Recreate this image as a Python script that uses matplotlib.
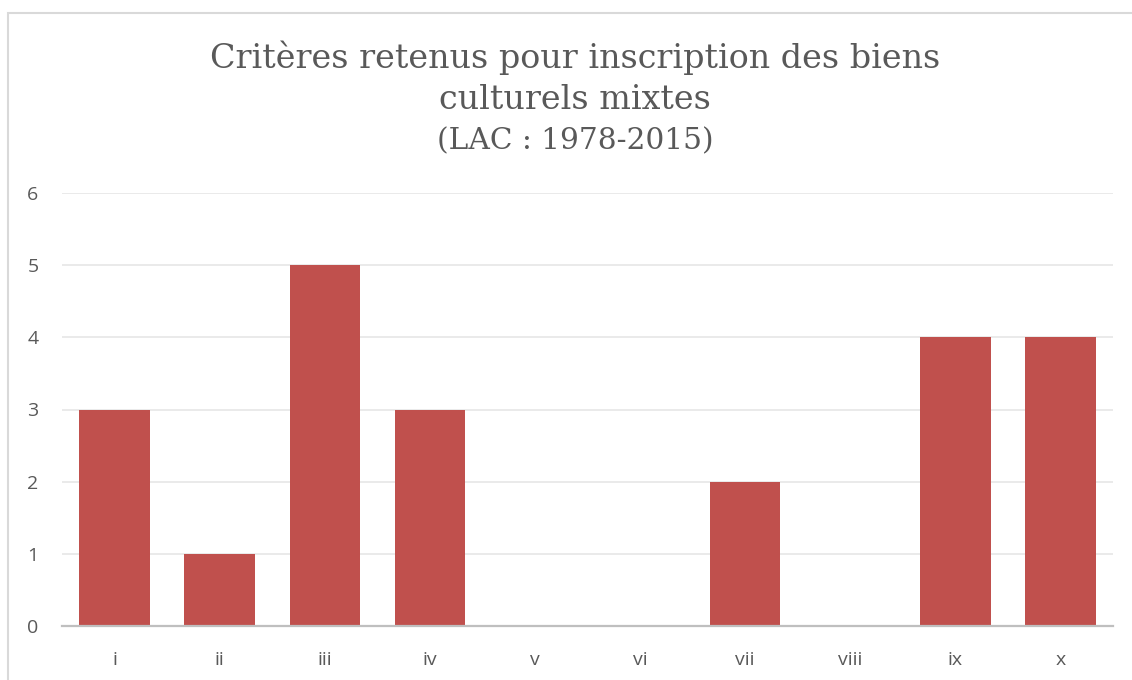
import matplotlib
matplotlib.use("Agg")
import matplotlib.pyplot as plt
from matplotlib.patches import Rectangle

categories = ["i", "ii", "iii", "iv", "v", "vi", "vii", "viii", "ix", "x"]
counts = [3, 1, 5, 3, 0, 0, 2, 0, 4, 4]
yticks = [0, 1, 2, 3, 4, 5, 6]

W, H = 1132, 680
fig = plt.figure(figsize=(W / 100, H / 100), dpi=100)
fig.patch.set_facecolor("white")

# outer chart border (top and left edges visible)
fig.patches.append(Rectangle((8 / W, -0.1), 1.2, (H - 13) / H + 0.1,
                             transform=fig.transFigure, fill=False,
                             edgecolor="#D9D9D9", linewidth=1.5))

left, right = 62 / W, 1113 / W
bottom = 1 - 626 / H
height = (626 - 193) / H
ax = fig.add_axes([left, bottom, right - left, height])

x = range(len(categories))
ax.bar(x, counts, width=0.67, color="#C0504D", zorder=3)
ax.set_xlim(-0.5, len(categories) - 0.5)
ax.set_ylim(0, 6)
ax.set_yticks(yticks)
ax.set_xticks(list(x))
ax.set_xticklabels(categories)

ax.grid(axis="y", color="#E6E6E6", linewidth=1.2, zorder=0)
for s in ["top", "right", "left"]:
    ax.spines[s].set_visible(False)
ax.spines["bottom"].set_color("#BFBFBF")
ax.spines["bottom"].set_linewidth(1.6)
ax.spines["bottom"].set_zorder(4)
ax.tick_params(length=0, labelsize=14, labelcolor="#595959")
ax.tick_params(axis="x", pad=18)
ax.tick_params(axis="y", pad=17)
for lab in ax.get_xticklabels() + ax.get_yticklabels():
    lab.set_family("Open Sans")

title_kw = dict(ha="center", va="center", color="#595959", family="DejaVu Serif")
cx = 575 / W
fig.text(cx, 1 - 58 / H, "Critères retenus pour inscription des biens", fontsize=24, **title_kw)
fig.text(cx, 1 - 100 / H, "culturels mixtes", fontsize=24, **title_kw)
fig.text(cx, 1 - 141 / H, "(LAC : 1978-2015)", fontsize=21.3, **title_kw)

fig.savefig("out.png", dpi=100, facecolor="white")
